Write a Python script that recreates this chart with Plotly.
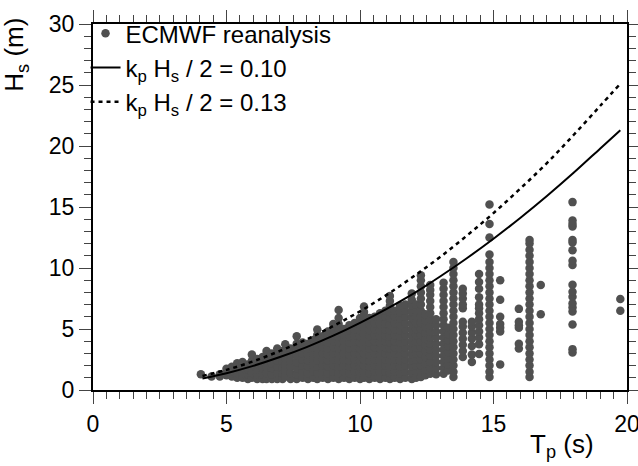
import plotly.graph_objects as go

# ---- data ----
# Observed points (ECMWF reanalysis), grouped by peak-period column
tp_columns = [4.04, 4.44, 4.75, 5.0, 5.2, 5.4, 5.6, 5.8, 5.95, 6.15, 6.35, 6.5, 6.7, 6.9,
              7.1, 7.2, 7.4, 7.63, 7.85, 8.05, 8.25, 8.4, 8.6, 8.8, 9.0, 9.2, 9.4, 9.6,
              9.8, 10.0, 10.15, 10.35, 10.55, 10.75, 10.95, 11.12, 11.3, 11.5, 11.7,
              11.94, 12.1, 12.28, 12.45, 12.63, 12.85, 13.13, 13.3, 13.5, 13.85, 14.19,
              14.46, 14.85, 15.25, 15.95, 16.35, 16.77, 17.96, 19.75]

hs_columns = [
    [1.3],
    [1.1],
    [1.3, 1.1],
    [1.2, 1.5, 1.75],
    [1.1, 1.5, 1.9],
    [1.0, 1.4, 1.8, 2.2],
    [1.0, 1.4, 1.8, 2.3],
    [0.9, 1.3, 1.7, 2.1],
    [1.0, 1.4, 1.9, 2.4, 2.9],
    [0.9, 1.3, 1.7, 2.1, 2.55],
    [0.9, 1.3, 1.8, 2.3, 2.7],
    [0.9, 1.4, 1.9, 2.4, 2.8, 3.2],
    [0.9, 1.3, 1.8, 2.2, 2.7, 3.0],
    [0.9, 1.4, 1.9, 2.4, 2.9, 3.4],
    [0.9, 1.3, 1.8, 2.3, 2.8, 3.2],
    [1.1, 1.6, 2.1, 2.6, 3.1, 3.75],
    [0.9, 1.4, 1.9, 2.4, 2.9, 3.4],
    [0.9, 1.3, 1.8, 2.3, 2.8, 3.3, 3.8, 4.4],
    [1.0, 1.5, 2.0, 2.5, 3.0, 3.5, 3.9],
    [0.9, 1.4, 1.9, 2.4, 2.9, 3.4, 3.8],
    [1.0, 1.5, 2.0, 2.5, 3.0, 3.5, 4.1],
    [0.9, 1.4, 1.9, 2.4, 2.9, 3.4, 3.9, 4.5, 4.95],
    [1.0, 1.5, 2.0, 2.5, 3.0, 3.5, 4.0, 4.4],
    [0.9, 1.4, 1.9, 2.4, 2.9, 3.4, 3.9, 4.4, 4.8],
    [1.0, 1.5, 2.0, 2.5, 3.0, 3.5, 4.0, 4.5, 5.0, 5.4],
    [0.9, 1.4, 1.9, 2.4, 2.9, 3.4, 3.9, 4.4, 4.9, 5.4, 5.9, 6.55],
    [1.0, 1.5, 2.0, 2.5, 3.0, 3.5, 4.0, 4.5, 5.0],
    [0.9, 1.4, 1.9, 2.4, 2.9, 3.4, 3.9, 4.4, 4.9, 5.3],
    [1.0, 1.5, 2.0, 2.5, 3.0, 3.5, 4.0, 4.5, 5.0, 5.5],
    [0.9, 1.4, 1.9, 2.4, 2.9, 3.4, 3.9, 4.4, 4.9, 5.4, 5.9],
    [1.0, 1.5, 2.0, 2.5, 3.0, 3.5, 4.0, 4.5, 5.0, 5.5, 6.0, 6.4, 6.85],
    [0.9, 1.4, 1.9, 2.4, 2.9, 3.4, 3.9, 4.4, 4.9, 5.4, 5.9],
    [1.0, 1.5, 2.0, 2.5, 3.0, 3.5, 4.0, 4.5, 5.0, 5.5, 6.0],
    [0.9, 1.4, 1.9, 2.4, 2.9, 3.4, 3.9, 4.4, 4.9, 5.4, 5.9, 6.3],
    [1.0, 1.5, 2.0, 2.5, 3.0, 3.5, 4.0, 4.5, 5.0, 5.5, 6.0, 6.5],
    [0.9, 1.4, 1.9, 2.4, 2.9, 3.4, 3.9, 4.4, 4.9, 5.4, 5.9, 6.4, 6.9, 7.3, 7.7],
    [1.0, 1.5, 2.0, 2.5, 3.0, 3.5, 4.0, 4.5, 5.0, 5.5, 6.0, 6.5],
    [0.9, 1.4, 1.9, 2.4, 2.9, 3.4, 3.9, 4.4, 4.9, 5.4, 5.9, 6.4, 6.9],
    [1.0, 1.5, 2.0, 2.5, 3.0, 3.5, 4.0, 4.5, 5.0, 5.5, 6.0, 6.5, 7.0],
    [0.9, 1.4, 1.9, 2.4, 2.9, 3.4, 3.9, 4.4, 4.9, 5.4, 5.9, 6.4, 6.9, 7.4, 7.9],
    [1.0, 1.5, 2.0, 2.5, 3.0, 3.5, 4.0, 4.5, 5.0, 5.5, 6.0, 6.5, 7.0],
    [1.07, 1.5, 2.0, 2.5, 3.0, 3.5, 4.0, 4.5, 5.0, 5.5, 6.0, 6.5, 7.0, 7.5, 8.0, 8.5, 9.0, 9.4],
    [1.2, 1.7, 2.2, 2.7, 3.2, 3.7, 4.2, 4.7, 5.2, 5.7, 6.2],
    [1.34, 1.8, 2.3, 2.8, 3.3, 3.8, 4.3, 4.8, 5.3, 5.8, 6.3, 6.8, 7.3, 7.8, 8.2, 8.6],
    [1.3, 1.8, 2.3, 2.8, 3.3, 3.8, 4.3, 4.8, 5.3, 5.8],
    [1.34, 1.8, 2.3, 2.8, 3.3, 3.8, 4.3, 4.8, 5.3, 5.8, 6.3, 6.8, 7.3, 7.8, 8.3, 8.8],
    [1.6, 2.1, 2.6, 3.1, 3.6, 4.1, 4.6, 5.1],
    [1.07, 1.5, 2.0, 2.5, 3.0, 3.5, 4.0, 4.5, 5.0, 5.5, 6.0, 6.5, 7.0, 7.5, 8.0, 8.5, 9.0, 9.5, 10.0, 10.5],
    [2.7, 3.2, 3.7, 4.2, 4.7, 5.2, 5.6, 6.7, 7.0, 7.5, 7.9, 8.3],
    [2.3, 2.9, 3.6, 4.2, 4.7, 5.2, 5.6],
    [2.95, 3.76, 4.3, 4.8, 5.3, 5.8, 6.3, 6.7, 7.0, 7.6, 8.3, 8.85, 9.5],
    [1.07, 1.5, 2.0, 2.5, 3.0, 3.5, 4.0, 4.5, 5.0, 5.5, 6.0, 6.5, 7.0, 7.5, 8.0, 8.5, 9.0,
     9.5, 10.0, 10.5, 11.1, 12.5, 13.6, 15.2],
    [2.1, 4.8, 5.1, 5.4, 6.0, 7.4, 9.0],
    [3.4, 3.8, 5.1, 5.3, 5.6, 6.65],
    [1.07, 1.5, 2.0, 2.5, 3.0, 3.5, 4.0, 4.5, 5.0, 5.5, 6.0, 6.5, 7.0, 7.5, 8.0, 8.5, 9.0,
     9.5, 10.0, 10.5, 11.0, 11.5, 12.0, 12.3],
    [6.2, 8.6],
    [3.08, 3.35, 5.36, 6.44, 6.76, 7.1, 7.64, 8.05, 8.63, 10.25, 10.6, 11.45, 12.1, 12.3,
     13.4, 13.6, 13.9, 15.4],
    [6.5, 7.45],
]

# Steepness curves
tp_curve = [4.1, 5, 6, 7, 8, 9, 10, 11, 12, 13, 14, 15, 16, 17, 18, 19, 19.75]
hs_steep_010 = [0.95, 1.38, 1.98, 2.7, 3.52, 4.45, 5.5, 6.65, 7.9, 9.3, 10.8, 12.4,
                14.1, 15.9, 17.8, 19.8, 21.3]
hs_steep_013 = [1.15, 1.65, 2.35, 3.2, 4.15, 5.25, 6.45, 7.8, 9.3, 10.9, 12.65, 14.5,
                16.5, 18.6, 20.9, 23.3, 25.1]

x_ticks = [0, 5, 10, 15, 20]
y_ticks = [0, 5, 10, 15, 20, 25, 30]

# ---- build figure ----
tp_obs, hs_obs = [], []
for tp, col in zip(tp_columns, hs_columns):
    for h in col:
        tp_obs.append(tp)
        hs_obs.append(h)

FONT = "Liberation Sans, Arial, Helvetica, sans-serif"

fig = go.Figure()
fig.add_trace(go.Scatter(
    x=tp_obs, y=hs_obs, mode="markers", name="ECMWF reanalysis",
    marker=dict(color="#505050", size=8.5, line=dict(width=0)),
))
fig.add_trace(go.Scatter(
    x=tp_curve, y=hs_steep_010, mode="lines", line_shape="spline",
    name="k<sub>p</sub> H<sub>s</sub> / 2 = 0.10",
    line=dict(color="black", width=2),
))
fig.add_trace(go.Scatter(
    x=tp_curve, y=hs_steep_013, mode="lines", line_shape="spline",
    name="k<sub>p</sub> H<sub>s</sub> / 2 = 0.13",
    line=dict(color="black", width=2.5, dash="4px,4px"),
))

axis_common = dict(
    showgrid=False, zeroline=False, showline=True, linecolor="black", linewidth=2,
    mirror="ticks", ticks="outside", ticklen=12, tickwidth=1.3, tickcolor="#444",
    tickfont=dict(family=FONT, size=23, color="black"), automargin=False,
    ticklabeloverflow="allow",
)

fig.update_xaxes(range=[0, 20], tickvals=x_ticks,
                 minor=dict(dtick=0.5, ticks="outside", ticklen=7, tickwidth=1, tickcolor="#444"),
                 **axis_common)
fig.update_yaxes(range=[0, 30], tickvals=y_ticks,
                 minor=dict(dtick=1, ticks="outside", ticklen=7, tickwidth=1, tickcolor="#444"),
                 **axis_common)

fig.update_layout(
    width=638, height=466,
    margin=dict(l=93, r=11, t=17, b=76),
    paper_bgcolor="white", plot_bgcolor="white",
    font=dict(family=FONT, color="black"),
    showlegend=True,
    legend=dict(x=-0.014, y=1.035, xanchor="left", yanchor="top",
                bgcolor="rgba(0,0,0,0)", font=dict(family=FONT, size=24, color="black"),
                tracegroupgap=0, itemwidth=30),
    annotations=[
        dict(text="H<sub>s</sub> (m)", textangle=-90, xref="paper", yref="paper",
             x=-0.145, y=0.915, xanchor="center", yanchor="middle", showarrow=False,
             font=dict(family=FONT, size=26, color="black")),
        dict(text="T<sub>p</sub> (s)", xref="paper", yref="paper",
             x=0.879, y=-0.153, xanchor="center", yanchor="middle", showarrow=False,
             font=dict(family=FONT, size=26, color="black")),
    ],
)

fig.write_html("out.html")
